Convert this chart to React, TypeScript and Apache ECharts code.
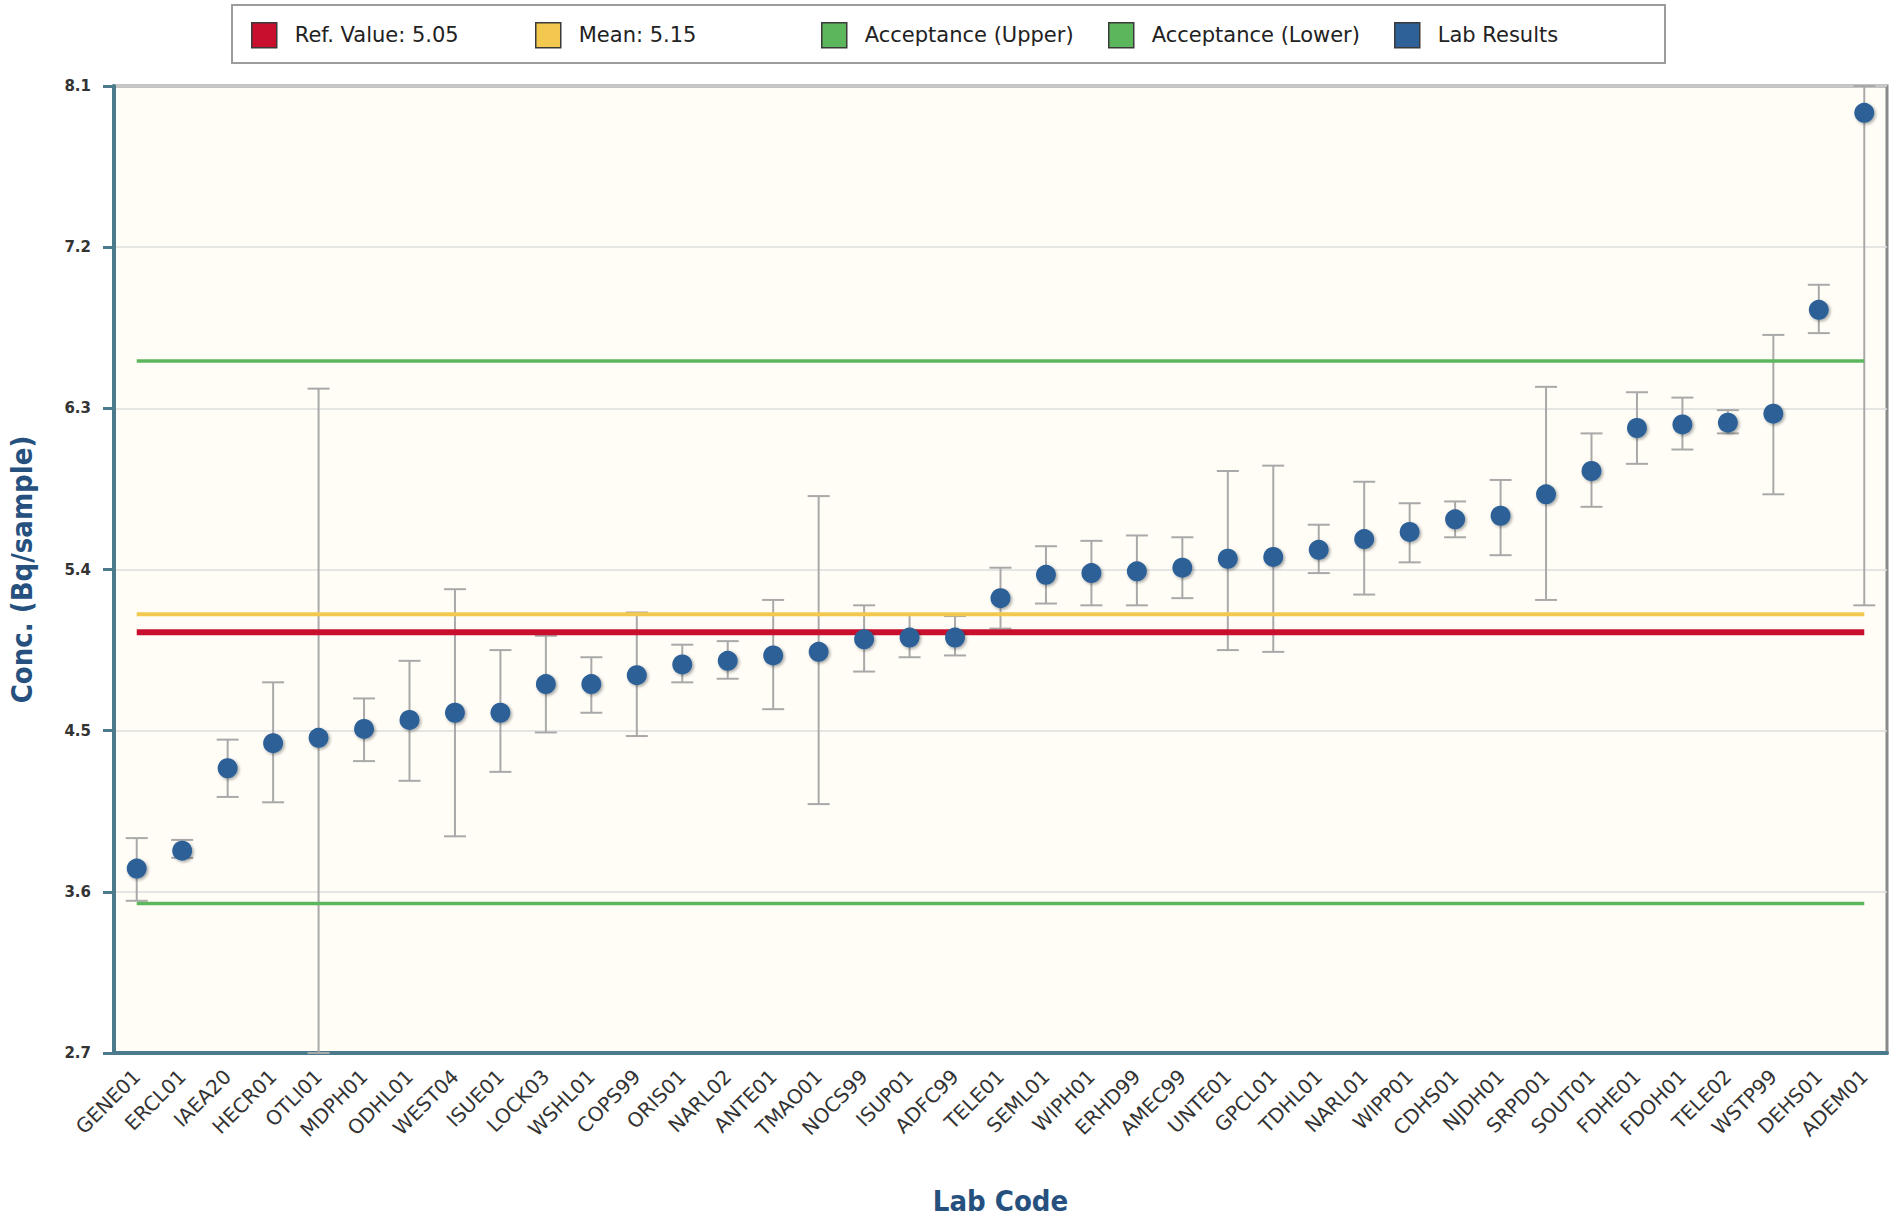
import React, { useEffect, useRef } from "react";
import * as echarts from "echarts";

const labCodes = [
  "GENE01", "ERCL01", "IAEA20", "HECR01", "OTLI01", "MDPH01", "ODHL01", "WEST04",
  "ISUE01", "LOCK03", "WSHL01", "COPS99", "ORIS01", "NARL02", "ANTE01", "TMAO01",
  "NOCS99", "ISUP01", "ADFC99", "TELE01", "SEML01", "WIPH01", "ERHD99", "AMEC99",
  "UNTE01", "GPCL01", "TDHL01", "NARL01", "WIPP01", "CDHS01", "NJDH01", "SRPD01",
  "SOUT01", "FDHE01", "FDOH01", "TELE02", "WSTP99", "DEHS01", "ADEM01",
];

const labResults = [
  3.73, 3.83, 4.29, 4.43, 4.46, 4.51, 4.56, 4.60,
  4.60, 4.76, 4.76, 4.81, 4.87, 4.89, 4.92, 4.94,
  5.01, 5.02, 5.02, 5.24, 5.37, 5.38, 5.39, 5.41,
  5.46, 5.47, 5.51, 5.57, 5.61, 5.68, 5.70, 5.82,
  5.95, 6.19, 6.21, 6.22, 6.27, 6.85, 7.95,
];

const lowerBounds = [
  3.55, 3.79, 4.13, 4.10, 2.51, 4.33, 4.22, 3.91,
  4.27, 4.49, 4.60, 4.47, 4.77, 4.79, 4.62, 4.09,
  4.83, 4.91, 4.92, 5.07, 5.21, 5.20, 5.20, 5.24,
  4.95, 4.94, 5.38, 5.26, 5.44, 5.58, 5.48, 5.23,
  5.75, 5.99, 6.07, 6.16, 5.82, 6.72, 5.20,
];

const upperBounds = [
  3.90, 3.89, 4.45, 4.77, 6.41, 4.68, 4.89, 5.29,
  4.95, 5.03, 4.91, 5.16, 4.98, 5.00, 5.23, 5.81,
  5.20, 5.15, 5.14, 5.41, 5.53, 5.56, 5.59, 5.58,
  5.95, 5.98, 5.65, 5.89, 5.77, 5.78, 5.90, 6.42,
  6.16, 6.39, 6.36, 6.29, 6.71, 6.99, 10.70,
];

const REF_VALUE = 5.05;
const MEAN_VALUE = 5.15;
const ACCEPT_UPPER = 6.565;
const ACCEPT_LOWER = 3.535;

const Y_MIN = 2.7;
const Y_MAX = 8.1;
const Y_INTERVAL = 0.9;

const legendNames = [
  `Ref. Value: ${REF_VALUE.toFixed(2)}`,
  `Mean: ${MEAN_VALUE.toFixed(2)}`,
  "Acceptance (Upper)",
  "Acceptance (Lower)",
  "Lab Results",
];
const legendLefts = [251, 535, 821, 1108, 1394];

const first = labCodes[0];
const last = labCodes[labCodes.length - 1];

export default function App() {
  const ref = useRef<HTMLDivElement>(null);

  useEffect(() => {
    if (!ref.current) return;
    const chart = echarts.init(ref.current, null, { renderer: "svg" });

    const hLine = (name: string, value: number, color: string, width: number, z: number) => ({
      name,
      type: "line",
      color,
      data: [
        [first, value],
        [last, value],
      ],
      symbol: "none",
      lineStyle: { color, width },
      itemStyle: { color },
      z,
      silent: true,
    });

    const titleFont = {
      fontFamily: "DejaVu Sans Condensed, DejaVu Sans",
      fontWeight: "bold",
      fontSize: 29,
      color: "#26507e",
    };

    const option: any = {
      animation: false,
      backgroundColor: "#ffffff",
      graphic: [
        {
          type: "rect",
          z: 0,
          shape: { x: 232, y: 5, width: 1433, height: 58 },
          style: { fill: "#ffffff", stroke: "#9c9c9c", lineWidth: 2 },
        },
      ],
      legend: legendNames.map((name, i) => ({
        left: legendLefts[i],
        top: 22,
        padding: 0,
        icon: "rect",
        itemWidth: 25,
        itemHeight: 25,
        selectedMode: false,
        data: [name],
        itemStyle: { borderColor: "#3a3a3a", borderWidth: 1.5, opacity: 1 },
        textStyle: {
          fontFamily: "DejaVu Sans",
          fontSize: 21,
          color: "#222222",
          padding: [0, 0, 0, 13],
        },
      })),
      grid: {
        left: 114,
        top: 86,
        width: 1773,
        height: 967,
        outerBoundsMode: "none",
        containLabel: false,
        show: true,
        backgroundColor: "#fffdf6",
        borderColor: "#8a8a8a",
        borderWidth: 3,
      },
      xAxis: {
        type: "category",
        data: labCodes,
        boundaryGap: true,
        name: "Lab Code",
        nameLocation: "middle",
        nameGap: 133,
        nameTextStyle: titleFont,
        axisLine: { lineStyle: { color: "#4a7a8c", width: 4 } },
        axisTick: { show: false },
        axisLabel: {
          rotate: 45,
          interval: 0,
          margin: 20,
          fontFamily: "DejaVu Sans",
          fontSize: 20,
          color: "#333333",
        },
        splitLine: { show: false },
      },
      yAxis: {
        type: "value",
        min: Y_MIN,
        max: Y_MAX,
        interval: Y_INTERVAL,
        name: "Conc. (Bq/sample)",
        nameLocation: "middle",
        nameRotate: 90,
        nameGap: 78,
        nameTextStyle: titleFont,
        axisLine: { show: true, lineStyle: { color: "#4a7a8c", width: 4 } },
        axisTick: { show: true, length: 11, lineStyle: { color: "#4a7a8c", width: 3 } },
        axisLabel: {
          margin: 23,
          fontFamily: "DejaVu Sans",
          fontWeight: "bold",
          fontSize: 15,
          color: "#333333",
          formatter: (v: number) => v.toFixed(1),
        },
        splitLine: { show: true, lineStyle: { color: "#dcdcdc", width: 1.5 } },
      },
      series: [
        {
          name: "errorBars",
          type: "custom",
          z: 2,
          silent: true,
          data: labCodes.map((_, i) => [i, lowerBounds[i], upperBounds[i]]),
          encode: { x: 0, y: [1, 2] },
          renderItem: (params: any, api: any) => {
            const i = api.value(0);
            const lo = Math.max(api.value(1), Y_MIN);
            const hi = Math.min(api.value(2), Y_MAX);
            const pLo = api.coord([i, lo]);
            const pHi = api.coord([i, hi]);
            const hw = 11;
            const style = { stroke: "#a9a9a9", lineWidth: 2, fill: "none" };
            return {
              type: "group",
              children: [
                { type: "line", shape: { x1: pLo[0], y1: pLo[1], x2: pHi[0], y2: pHi[1] }, style },
                { type: "line", shape: { x1: pLo[0] - hw, y1: pLo[1], x2: pLo[0] + hw, y2: pLo[1] }, style },
                { type: "line", shape: { x1: pHi[0] - hw, y1: pHi[1], x2: pHi[0] + hw, y2: pHi[1] }, style },
              ],
            };
          },
        },
        hLine(legendNames[1], MEAN_VALUE, "#f3c84f", 4, 3),
        hLine(legendNames[0], REF_VALUE, "#c8102e", 6, 4),
        hLine(legendNames[2], ACCEPT_UPPER, "#5cb65c", 3.5, 3),
        hLine(legendNames[3], ACCEPT_LOWER, "#5cb65c", 3.5, 3),
        {
          name: legendNames[4],
          type: "scatter",
          color: "#2d6198",
          data: labResults,
          symbol: "circle",
          symbolSize: 20,
          z: 5,
          itemStyle: {
            color: "#2d6198",
            opacity: 1,
            shadowColor: "rgba(0,0,0,0.35)",
            shadowBlur: 3,
            shadowOffsetX: 1.5,
            shadowOffsetY: 1.5,
          },
        },
      ],
    };

    chart.setOption(option);
    return () => {
      chart.dispose();
    };
  }, []);

  return (
    <div
      ref={ref}
      style={{ position: "absolute", left: 0, top: 0, width: 1894, height: 1219 }}
    />
  );
}
